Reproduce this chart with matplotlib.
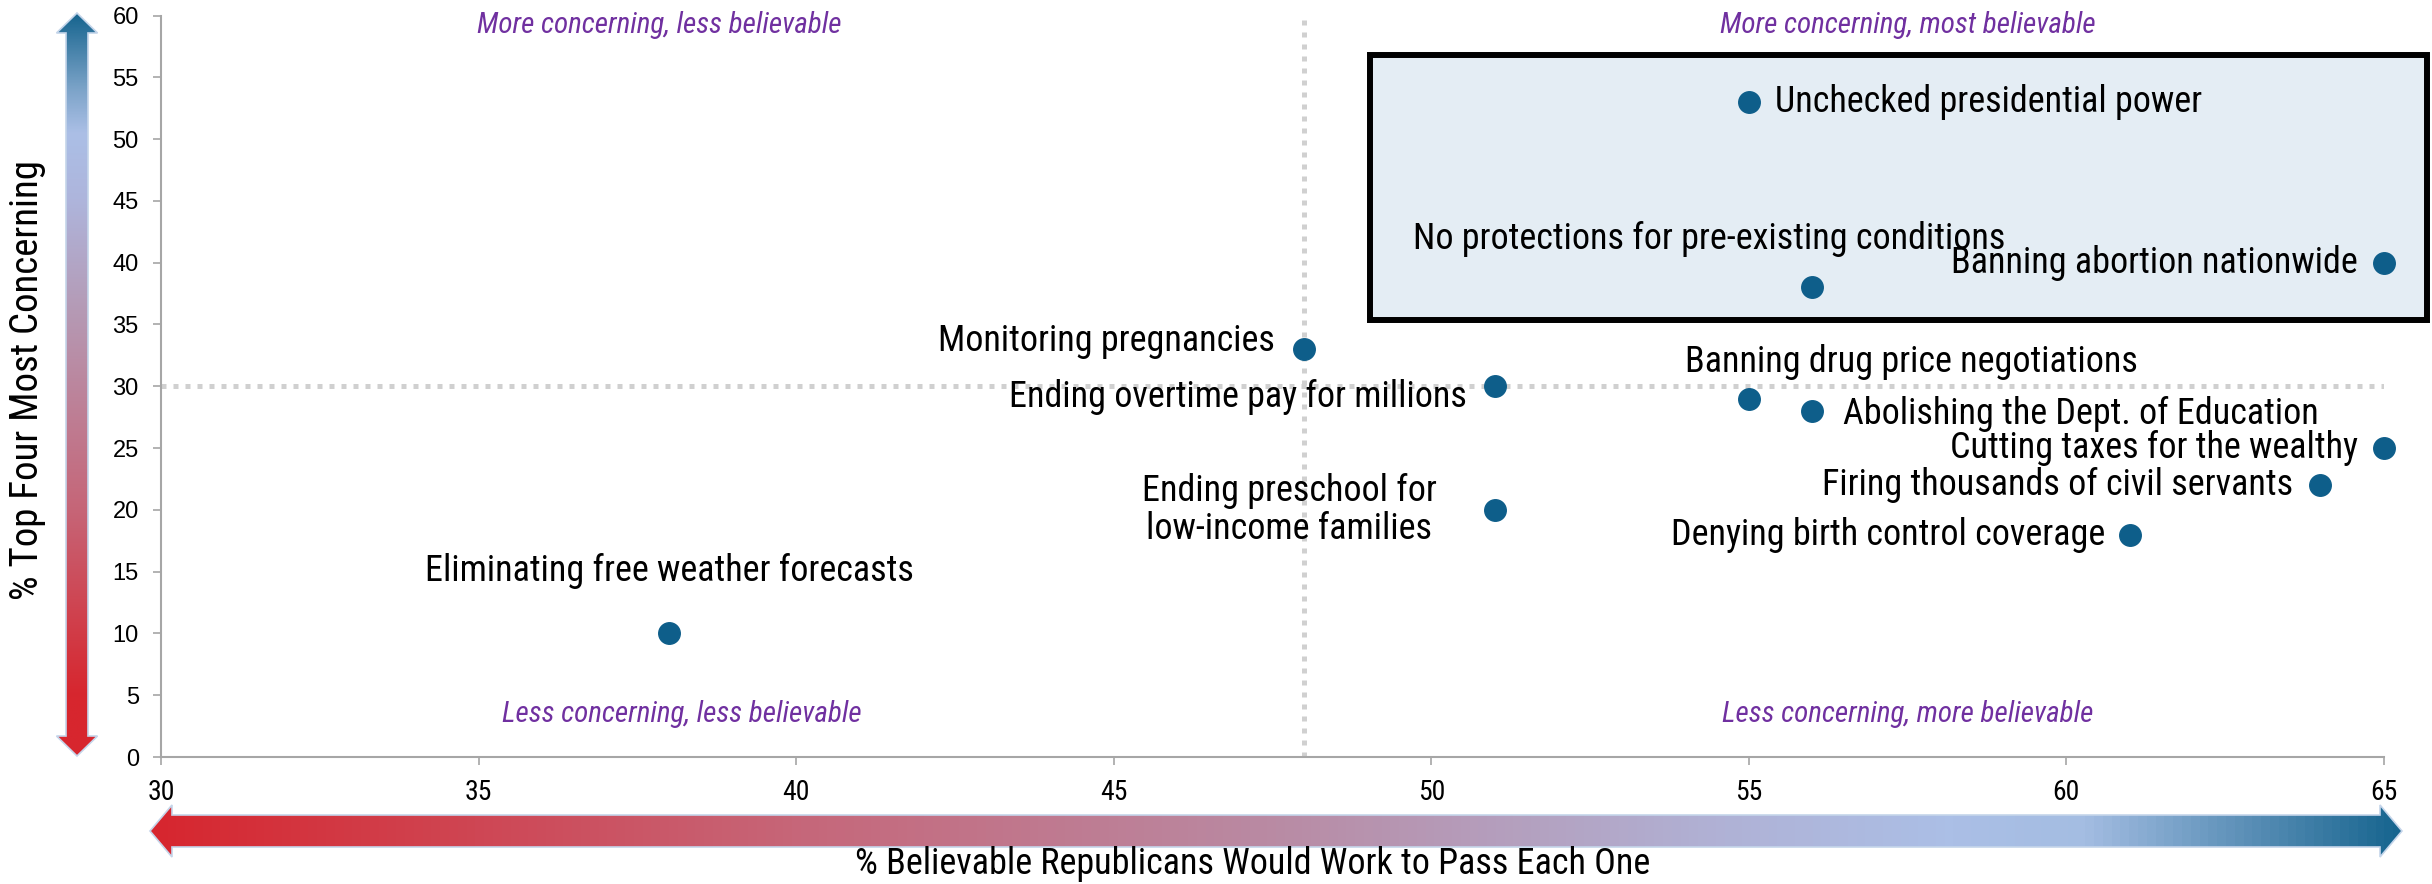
import matplotlib

matplotlib.use("Agg")
import matplotlib.pyplot as plt
import numpy as np
from matplotlib import font_manager
from matplotlib.colors import LinearSegmentedColormap
from matplotlib.patches import Polygon, Rectangle

# pick a narrow face if one is around, else Liberation Sans
_have = {f.name for f in font_manager.fontManager.ttflist}
_narrow = [f for f in ["Liberation Sans Narrow", "Roboto Condensed", "DejaVu Sans Condensed",
                       "Liberation Sans"] if f in _have]
plt.rcParams["font.family"] = _narrow[:1] + ["DejaVu Sans"]

# data
labels = [
    "Unchecked presidential power",
    "No protections for pre-existing conditions",
    "Banning abortion nationwide",
    "Monitoring pregnancies",
    "Ending overtime pay for millions",
    "Banning drug price negotiations",
    "Abolishing the Dept. of Education",
    "Cutting taxes for the wealthy",
    "Firing thousands of civil servants",
    "Denying birth control coverage",
    "Ending preschool for\nlow-income families",
    "Eliminating free weather forecasts",
]
believable = [55, 56, 65, 48, 51, 55, 56, 65, 64, 61, 51, 38]
concerning = [53, 38, 40, 33, 30, 29, 28, 25, 22, 18, 20, 10]

# label placement: (dx pt, dy pt, ha)
label_pos = [
    (19, 0, "left"),
    (-74, 35, "center"),
    (-19, 0, "right"),
    (-21, 6, "right"),
    (-20, -8, "right"),
    (117, 26, "center"),
    (22, -2, "left"),
    (-19, 0, "right"),
    (-20, 0, "right"),
    (-18, 0, "right"),
    (-42, 0, "right"),
    (0, 45, "center"),
]

quadrants = [
    ("More concerning, less believable", 37.85, 59.2),
    ("More concerning, most believable", 57.5, 59.2),
    ("Less concerning, less believable", 38.2, 3.5),
    ("Less concerning, more believable", 57.5, 3.5),
]

x_mid, y_mid = 48, 30
box = (49.04, 35.35, 65.68, 56.8)

W, H = 2432, 884
fig = plt.figure(figsize=(W / 100, H / 100), dpi=100)
ax = fig.add_axes([161 / W, 1 - 757 / H, (2384 - 161) / W, (757 - 15.5) / H])

ax.set_xlim(30, 65)
ax.set_ylim(0, 60)
ax.set_xticks(np.arange(30, 66, 5))
ax.set_yticks(np.arange(0, 61, 5))
for s in ["top", "right"]:
    ax.spines[s].set_visible(False)
for s in ["left", "bottom"]:
    ax.spines[s].set_color("#A6A6A6")
    ax.spines[s].set_linewidth(1.5)
ax.tick_params(axis="both", direction="out", length=6, width=1.2, color="#A6A6A6")
ax.tick_params(axis="y", pad=10, labelsize=17)
ax.tick_params(axis="x", pad=10, labelsize=20)
for t in ax.get_yticklabels():
    t.set_family(["Liberation Sans", "DejaVu Sans"])

dot = dict(color="#D0D0D0", lw=3.6, linestyle=(0, (1, 1.4)), zorder=0.5)
ax.axvline(x_mid, **dot)
ax.axhline(y_mid, **dot)

ax.add_patch(Rectangle((box[0], box[1]), box[2] - box[0], box[3] - box[1],
                       facecolor="#E4EDF4", edgecolor="black", lw=4.3,
                       clip_on=False, zorder=1))

ax.scatter(believable, concerning, s=240, color="#0E5E8A", zorder=3, clip_on=False)

for lab, x, y, (dx, dy, ha) in zip(labels, believable, concerning, label_pos):
    ax.annotate(lab, (x, y), xytext=(dx, dy), textcoords="offset points",
                ha=ha, va="center", fontsize=26, multialignment="center",
                linespacing=1.05, zorder=4, annotation_clip=False)

for txt, x, y in quadrants:
    ax.text(x, y, txt, ha="center", va="center", fontsize=21, style="italic",
            color="#7030A0")

# gradient arrows on a full-figure overlay (pixel coords)
ov = fig.add_axes([0, 0, 1, 1], facecolor="none")
ov.axis("off")

cmap_y = LinearSegmentedColormap.from_list("y", [
    (0, "#D7262E"), (0.08, "#D7262E"), (0.33, "#C66577"), (0.6, "#B59AB5"),
    (0.75, "#AEB5DC"), (0.84, "#ABBFE6"), (0.9, "#7BA3C8"), (1, "#17658F")])
cmap_x = LinearSegmentedColormap.from_list("x", [
    (0, "#D7262E"), (0.29, "#C6677A"), (0.5, "#B98BA4"), (0.7, "#B0B2D6"),
    (0.8, "#ABBFE6"), (0.86, "#A4BDE2"), (1, "#17658F")])

grad = np.linspace(0, 1, 256)

# vertical arrow
cx, top, bot, sh, hw, hl = 77, 13, 756, 11, 20.5, 20
vpts = [(cx, top), (cx + hw, top + hl), (cx + sh, top + hl), (cx + sh, bot - hl),
        (cx + hw, bot - hl), (cx, bot), (cx - hw, bot - hl), (cx - sh, bot - hl),
        (cx - sh, top + hl), (cx - hw, top + hl)]
vp = Polygon(vpts, closed=True, facecolor="none", edgecolor="#C5D5EA", lw=1.2, zorder=3)
ov.add_patch(vp)
im = ov.imshow(grad[:, None], cmap=cmap_y, extent=(cx - hw, cx + hw, bot, top),
               origin="lower", aspect="auto", zorder=2)
im.set_clip_path(vp)

# horizontal arrow
cy, lft, rgt, sh, hw, hl = 831, 150, 2402, 16, 26, 22
hpts = [(lft, cy), (lft + hl, cy - hw), (lft + hl, cy - sh), (rgt - hl, cy - sh),
        (rgt - hl, cy - hw), (rgt, cy), (rgt - hl, cy + hw), (rgt - hl, cy + sh),
        (lft + hl, cy + sh), (lft + hl, cy + hw)]
hp = Polygon(hpts, closed=True, facecolor="none", edgecolor="#C5D5EA", lw=1.2, zorder=3)
ov.add_patch(hp)
im2 = ov.imshow(grad[None, :], cmap=cmap_x, extent=(lft, rgt, cy + hw, cy - hw),
                origin="lower", aspect="auto", zorder=2)
im2.set_clip_path(hp)

ov.set_xlim(0, W)
ov.set_ylim(H, 0)

fig.text(28 / W, 1 - 380 / H, "% Top Four Most Concerning", rotation=90,
         ha="center", va="center", fontsize=28)
fig.text(1253 / W, 1 - 864 / H, "% Believable Republicans Would Work to Pass Each One",
         ha="center", va="center", fontsize=26)

fig.savefig("out.png", dpi=100)
